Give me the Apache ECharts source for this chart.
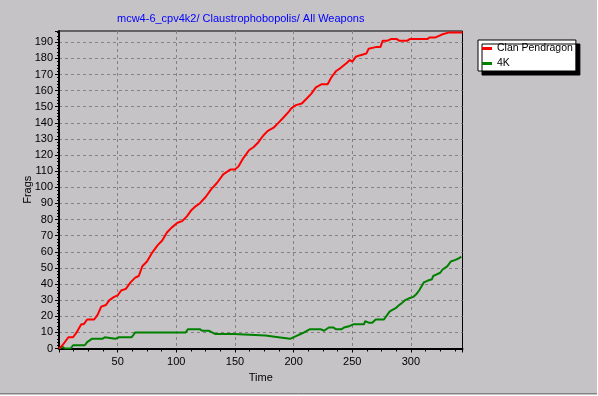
<!DOCTYPE html>
<html>
<head>
<meta charset="utf-8">
<script src="https://cdn.jsdelivr.net/npm/echarts@6/dist/echarts.min.js"></script>
<style>
html,body{margin:0;padding:0;background:#c6c3c6;}
#chart{width:598px;height:396px;}
</style>
</head>
<body>
<div id="chart"></div>
<script>
var titleText = 'mcw4-6_cpv4k2/ Claustrophobopolis/ All Weapons';
var seriesNames = ['Clan Pendragon', '4K'];
var xTickLabels = [50, 100, 150, 200, 250, 300];

var redTime = [0,3,8,12,15,19,21,24,30,33,36,40,43,47,50,53,57,61,65,68,71,75,79,84,88,92,96,101,105,109,113,116,120,125,130,135,140,146,150,153,157,162,166,170,174,178,183,187,191,196,198,202,207,211,215,219,224,229,232,236,240,245,248,250,253,257,262,264,270,274,276,280,283,288,290,297,299,314,316,321,324,327,332,344];
var redFrags = [0,2,7,7,10,15,15,18,18,21,26,27,30,32,33,36,37,41,44,45,51,54,59,64,67,72,75,78,79,82,86,88,90,94,99,103,108,111,111,113,118,123,125,128,132,135,137,140,143,147,149,151,152,155,158,162,164,164,168,172,174,177,179,178,181,182,183,186,187,187,191,191,192,192,191,191,192,192,193,193,194,195,196,196];

var greenTime = [0,3,5,10,12,22,24,25,28,37,39,40,48,51,62,65,67,108,110,115,120,122,128,129,133,149,150,176,177,187,188,197,198,203,206,209,214,219,220,223,226,230,234,236,241,243,248,251,260,261,264,267,270,277,280,282,287,290,292,295,298,299,302,305,307,311,314,318,319,322,325,327,331,334,338,341,343];
var greenFrags = [0,1,0,0,2,2,4,3,6,6,7,6,6,7,7,10,10,10,12,12,12,11,11,10,9,9,8,8,7,7,6,6,7,8,9,10,12,12,13,12,11,13,13,12,12,13,14,15,15,17,16,16,18,18,21,23,25,27,28,30,31,30,32,34,36,41,42,43,45,46,47,49,51,54,55,56,57];

function pairs(t, v) { return t.map(function (x, i) { return [x, v[i]]; }); }

var font = 'Arial, "Liberation Sans", sans-serif';
var chart = echarts.init(document.getElementById('chart'), null, {renderer: 'canvas'});
chart.setOption({
  backgroundColor: '#c6c3c6',
  animation: false,
  textStyle: {fontFamily: font},
  title: {
    text: titleText, left: 117, top: 13, padding: 0,
    textStyle: {color: '#0000ff', fontSize: 11, fontWeight: 'normal', fontFamily: font}
  },
  legend: {
    orient: 'vertical', left: 478, top: 40,
    padding: [2, 3, 1, 4],
    backgroundColor: '#ffffff', borderColor: '#000000', borderWidth: 1,
    shadowColor: '#000000', shadowBlur: 0, shadowOffsetX: 4, shadowOffsetY: 4,
    icon: 'rect', itemWidth: 10, itemHeight: 3, itemGap: 2,
    textStyle: {fontSize: 10.5, color: '#000', fontFamily: font, lineHeight: 13},
    data: seriesNames
  },
  grid: {
    left: 59, top: 31, right: 135.5, bottom: 47.5,
    show: true, borderColor: '#000', borderWidth: 1, backgroundColor: 'transparent'
  },
  xAxis: {
    type: 'value', min: 0, max: 344, interval: 50,
    name: 'Time', nameLocation: 'middle', nameGap: 21,
    nameTextStyle: {fontSize: 11, color: '#000', fontFamily: font},
    axisLine: {show: true, onZero: false, lineStyle: {color: '#000', width: 2}},
    axisTick: {show: true, length: 4, lineStyle: {color: '#000'}},
    minorTick: {show: true, splitNumber: 4, length: 3, lineStyle: {color: '#000'}},
    axisLabel: {
      color: '#000', fontSize: 11, margin: 8, fontFamily: font,
      showMinLabel: false, showMaxLabel: false,
      formatter: function (v) { return xTickLabels.indexOf(v) >= 0 ? String(v) : ''; }
    },
    splitLine: {show: true, showMinLine: false, showMaxLine: false, lineStyle: {color: '#848284', type: [3, 3], width: 1}}
  },
  yAxis: {
    type: 'value', min: 0, max: 197, interval: 10,
    name: 'Frags', nameLocation: 'middle', nameGap: 26, nameRotate: 90, nameMoveOverlap: false,
    nameTextStyle: {fontSize: 11, color: '#000', fontFamily: font},
    axisLine: {show: true, onZero: false, lineStyle: {color: '#000', width: 2}},
    axisTick: {show: true, length: 4, lineStyle: {color: '#000'}},
    minorTick: {show: true, splitNumber: 5, length: 2, lineStyle: {color: '#000'}},
    axisLabel: {color: '#000', fontSize: 11, margin: 6, fontFamily: font, showMaxLabel: false},
    splitLine: {show: true, showMinLine: false, showMaxLine: false, lineStyle: {color: '#848284', type: [3, 3], width: 1}}
  },
  graphic: [
    {type: 'line', shape: {x1: 0, y1: 393.5, x2: 597, y2: 393.5}, style: {stroke: '#848284', lineWidth: 1}, silent: true},
    {type: 'line', shape: {x1: 0, y1: 395.5, x2: 598, y2: 395.5}, style: {stroke: '#ffffff', lineWidth: 1}, silent: true},
    {type: 'line', shape: {x1: 597.5, y1: 0, x2: 597.5, y2: 396}, style: {stroke: '#ffffff', lineWidth: 1}, silent: true}
  ],
  series: [
    {name: seriesNames[0], type: 'line', data: pairs(redTime, redFrags), showSymbol: false,
     color: '#ff0000', lineStyle: {color: '#ff0000', width: 2}, z: 3},
    {name: seriesNames[1], type: 'line', data: pairs(greenTime, greenFrags), showSymbol: false,
     color: '#008000', lineStyle: {color: '#008000', width: 2}, z: 2}
  ]
});
</script>
</body>
</html>
